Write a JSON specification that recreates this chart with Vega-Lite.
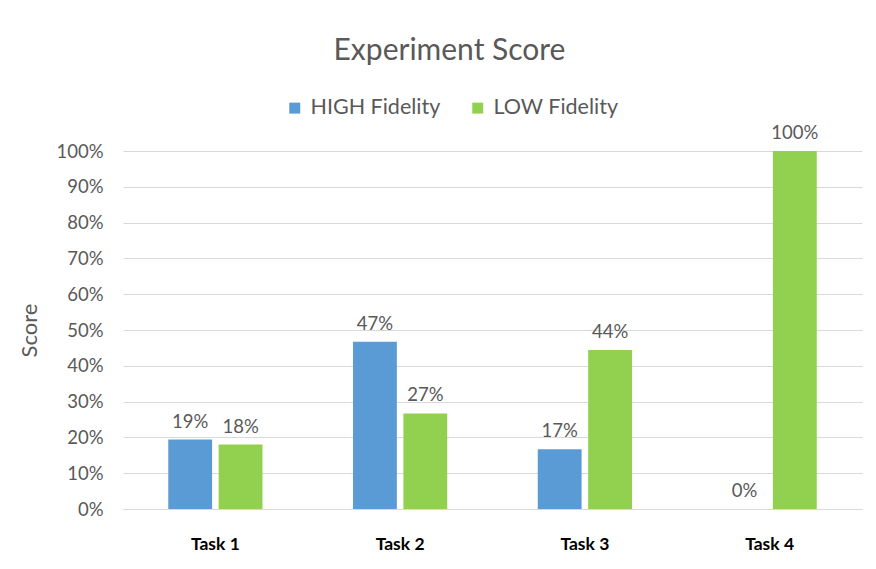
{
  "$schema": "https://vega.github.io/schema/vega-lite/v6.json",
  "autosize": "none",
  "width": 739,
  "height": 358,
  "padding": {"left": 123, "top": 151, "right": 14, "bottom": 60},
  "background": "white",
  "title": {
    "text": "Experiment Score",
    "font": "Lato",
    "fontSize": 30,
    "fontWeight": "normal",
    "color": "#595959",
    "anchor": "middle",
    "dx": -43,
    "offset": 31
  },
  "data": {
    "values": [
      {"task": "Task 1", "series": "HIGH Fidelity", "value": 0.194},
      {"task": "Task 1", "series": "LOW Fidelity", "value": 0.18},
      {"task": "Task 2", "series": "HIGH Fidelity", "value": 0.467},
      {"task": "Task 2", "series": "LOW Fidelity", "value": 0.267},
      {"task": "Task 3", "series": "HIGH Fidelity", "value": 0.167},
      {"task": "Task 3", "series": "LOW Fidelity", "value": 0.444},
      {"task": "Task 4", "series": "HIGH Fidelity", "value": 0},
      {"task": "Task 4", "series": "LOW Fidelity", "value": 1.0}
    ]
  },
  "encoding": {
    "x": {
      "field": "task",
      "type": "nominal",
      "scale": {"paddingInner": 0.49, "paddingOuter": 0.245},
      "axis": {
        "title": null,
        "labelAngle": 0,
        "labelFont": "Lato",
        "labelFontSize": 17.5,
        "labelFontWeight": "bold",
        "labelColor": "#000000",
        "labelPadding": 26,
        "ticks": false,
        "domainColor": "#d9d9d9",
        "domainWidth": 1
      }
    },
    "xOffset": {"field": "series", "type": "nominal", "scale": {"paddingInner": 0.13}},
    "y": {
      "field": "value",
      "type": "quantitative",
      "scale": {"domain": [0, 1]},
      "axis": {
        "title": "Score",
        "titleFont": "Lato",
        "titleFontSize": 22,
        "titleFontWeight": "normal",
        "titleColor": "#595959",
        "titlePadding": 14,
        "format": ".0%",
        "values": [0, 0.1, 0.2, 0.3, 0.4, 0.5, 0.6, 0.7, 0.8, 0.9, 1.0],
        "labelFont": "Lato",
        "labelFontSize": 18.5,
        "labelColor": "#595959",
        "labelPadding": 20,
        "ticks": false,
        "domain": false,
        "gridColor": "#d9d9d9",
        "gridWidth": 1
      }
    }
  },
  "layer": [
    {
      "mark": {"type": "bar"},
      "encoding": {
        "color": {
          "field": "series",
          "type": "nominal",
          "scale": {"domain": ["HIGH Fidelity", "LOW Fidelity"], "range": ["#5B9BD5", "#92D050"]},
          "legend": {
            "title": null,
            "orient": "none",
            "direction": "horizontal",
            "legendX": 161,
            "legendY": -54,
            "symbolType": "square",
            "symbolSize": 120,
            "symbolStrokeWidth": 0,
            "labelFont": "Lato",
            "labelFontSize": 21.5,
            "labelColor": "#595959",
            "columnPadding": 26,
            "labelOffset": 5,
            "labelLimit": 300
          }
        }
      }
    },
    {
      "mark": {"type": "text", "baseline": "bottom", "dy": -8, "font": "Lato", "fontSize": 18.5, "color": "#595959"},
      "encoding": {
        "text": {"field": "value", "type": "quantitative", "format": ".0%"}
      }
    }
  ],
  "config": {
    "view": {"stroke": null}
  }
}
